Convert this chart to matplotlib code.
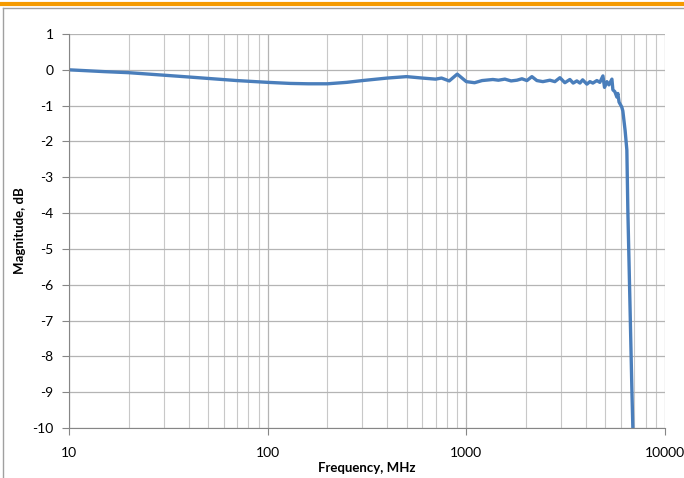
import numpy as np
import matplotlib
matplotlib.use("Agg")
import matplotlib.pyplot as plt
from matplotlib.lines import Line2D

# frequency response
freq = [10, 15, 20, 30, 40, 50, 70, 100, 130, 160, 200, 250, 300, 400, 500,
        600, 700, 750, 820, 900, 1000, 1100, 1200, 1360, 1450, 1563, 1680,
        1798, 1905, 2018, 2138, 2265, 2428, 2634, 2790, 2958, 3133, 3320,
        3450, 3600, 3730, 3850, 4045, 4188, 4335, 4540, 4700, 4870, 4960,
        5100, 5220, 5405, 5466, 5593, 5723, 5790, 5870, 6060, 6135, 6300,
        6427, 6500, 6654, 6810, 6890]
mag = [0.0, -0.05, -0.08, -0.15, -0.2, -0.24, -0.3, -0.35, -0.38, -0.39,
       -0.39, -0.35, -0.3, -0.23, -0.19, -0.23, -0.26, -0.23, -0.31, -0.12,
       -0.33, -0.36, -0.3, -0.27, -0.29, -0.26, -0.31, -0.29, -0.25, -0.3,
       -0.19, -0.3, -0.33, -0.29, -0.33, -0.22, -0.36, -0.27, -0.37, -0.31,
       -0.37, -0.28, -0.4, -0.33, -0.37, -0.3, -0.35, -0.17, -0.49, -0.33,
       -0.42, -0.26, -0.56, -0.61, -0.76, -0.66, -0.9, -1.04, -1.15, -1.7,
       -2.24, -3.9, -6.4, -8.9, -10.0]

xticks = [10, 100, 1000, 10000]
yticks = list(range(-10, 2))

plt.rcParams['font.family'] = ['Lato', 'DejaVu Sans']
plt.rcParams['axes.unicode_minus'] = False

fig = plt.figure(figsize=(6.84, 4.78), dpi=100)
ax = fig.add_axes([69/684, 50/478, (665-69)/684, (428-34)/478])

ax.plot(freq, mag, color="#4a7ebb", lw=2.4, solid_joinstyle="round")

ax.set_xscale("log")
ax.set_xlim(10, 10000)
ax.set_ylim(-10, 1)
ax.set_xticks(xticks)
ax.set_xticklabels([str(t) for t in xticks])
ax.set_yticks(yticks)
ax.xaxis.set_minor_locator(matplotlib.ticker.LogLocator(base=10, subs=np.arange(2, 10)))
ax.xaxis.set_minor_formatter(matplotlib.ticker.NullFormatter())
ax.grid(which="major", color="#b4b4b4", lw=0.9)
ax.grid(which="minor", axis="x", color="#c8c8c8", lw=0.8)
ax.set_axisbelow(True)

for s in ["top", "right"]:
    ax.spines[s].set_visible(False)
for s in ["left", "bottom"]:
    ax.spines[s].set_color("#868686")
ax.tick_params(axis="y", length=5, color="#868686", labelsize=10, pad=6)
ax.tick_params(axis="x", which="major", length=5, direction="out", color="#868686",
               labelsize=10, pad=9)
ax.tick_params(axis="x", which="minor", length=0)

ax.set_xlabel("Frequency, MHz", fontsize=9.5, fontweight="bold", labelpad=2)
ax.set_ylabel("Magnitude, dB", fontsize=9.5, fontweight="bold", labelpad=5)

# slide decoration: orange band and frame
fig.add_artist(Line2D([0, 1], [1 - 4/478, 1 - 4/478], color="#f59a00", lw=3))
fig.add_artist(Line2D([3/684, 1], [1 - 8/478, 1 - 8/478], color="#a0a0a0", lw=1))
fig.add_artist(Line2D([3/684, 3/684], [0, 1 - 8/478], color="#a0a0a0", lw=1))

fig.savefig("out.png", dpi=100)
